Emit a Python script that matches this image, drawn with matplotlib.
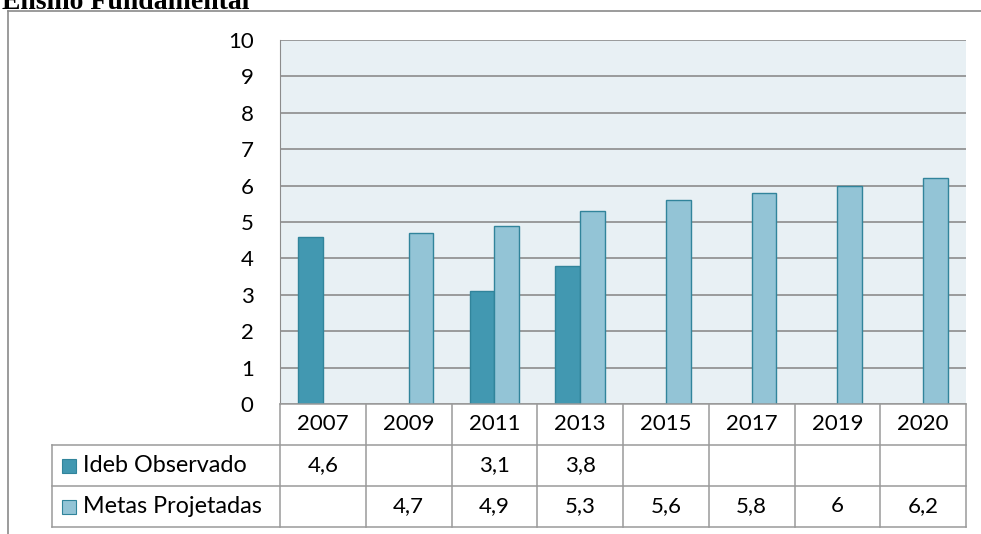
import matplotlib.pyplot as plt
from matplotlib.patches import Rectangle
import numpy as np

years = ["2007", "2009", "2011", "2013", "2015", "2017", "2019", "2020"]
ideb_observado = [4.6, None, 3.1, 3.8, None, None, None, None]
metas_projetadas = [None, 4.7, 4.9, 5.3, 5.6, 5.8, 6, 6.2]
series_names = ["Ideb Observado", "Metas Projetadas"]

W, H = 981, 534
dark = "#4298b1"
light = "#93c4d6"
edge = "#31849b"
grid = "#8c8c8c"
font = "Lato"
fs = 16

def fx(px):
    return px / W

def fy(py):
    return 1 - py / H

def fmt(v):
    return "" if v is None else f"{v:g}".replace(".", ",")

fig = plt.figure(figsize=(W / 100, H / 100), dpi=100)

# plot area in pixel bounds
left, right, top, bottom = 280, 966, 40, 404
ax = fig.add_axes([fx(left), fy(bottom), fx(right - left), (bottom - top) / H])
ax.set_facecolor("#e8f0f4")

x = np.arange(len(years))
bw = 0.29
obs = [np.nan if v is None else v for v in ideb_observado]
met = [np.nan if v is None else v for v in metas_projetadas]
ax.bar(x - bw / 2, obs, bw, color=dark, edgecolor=edge, linewidth=1, zorder=3)
ax.bar(x + bw / 2, met, bw, color=light, edgecolor=edge, linewidth=1, zorder=3)

ax.set_xlim(-0.5, len(years) - 0.5)
ax.set_ylim(0, 10)
ax.set_yticks(range(0, 11))
ax.set_xticks([])
ax.yaxis.grid(True, color=grid, linewidth=1.2, zorder=1)
ax.tick_params(axis="y", length=0, pad=19, labelsize=fs)
for lab in ax.get_yticklabels():
    lab.set_fontfamily(font)
for s in ["top", "right", "bottom"]:
    ax.spines[s].set_visible(False)
ax.spines["left"].set_color(grid)

# data table under the plot
row_h = 41
rows_y = [bottom, bottom + row_h, bottom + 2 * row_h, bottom + 3 * row_h]
col_w = (right - left) / len(years)
cols_x = [left + i * col_w for i in range(len(years) + 1)]
leg_left = 52
lc = "#9a9a9a"

def hline(x0, x1, y):
    fig.add_artist(plt.Line2D([fx(x0), fx(x1)], [fy(y), fy(y)], color=lc, lw=1.1))

def vline(xp, y0, y1):
    fig.add_artist(plt.Line2D([fx(xp), fx(xp)], [fy(y0), fy(y1)], color=lc, lw=1.1))

hline(left, right, rows_y[0])
for yy in rows_y[1:]:
    hline(leg_left, right, yy)
vline(leg_left, rows_y[1], rows_y[3])
vline(left, rows_y[0], rows_y[3])
for xp in cols_x[1:]:
    vline(xp, rows_y[0], rows_y[3])

for i, yr in enumerate(years):
    cx = cols_x[i] + col_w / 2
    fig.text(fx(cx), fy(rows_y[0] + row_h / 2), yr, ha="center", va="center",
             fontsize=fs, family=font)
    for r, vals in enumerate([ideb_observado, metas_projetadas]):
        fig.text(fx(cx), fy(rows_y[r + 1] + row_h / 2), fmt(vals[i]),
                 ha="center", va="center", fontsize=fs, family=font)

for r, (name, col) in enumerate(zip(series_names, [dark, light])):
    yc = rows_y[r + 1] + row_h / 2
    fig.add_artist(Rectangle((fx(62), fy(yc + 7)), fx(14), 14 / H,
                             facecolor=col, edgecolor=edge, lw=0.8))
    fig.text(fx(83), fy(yc), name, ha="left", va="center", fontsize=16.8, family=font)

# outer frame
fig.add_artist(plt.Line2D([fx(8), fx(8)], [fy(11), 0], color="#8a8a8a", lw=1.2))
fig.add_artist(plt.Line2D([fx(8), 1], [fy(11), fy(11)], color="#8a8a8a", lw=1.2))

fig.text(fx(2), fy(9), "Ensino Fundamental", ha="left", va="baseline",
         fontsize=20, fontweight="bold", family="Liberation Serif")

fig.savefig("out.png", dpi=100)
